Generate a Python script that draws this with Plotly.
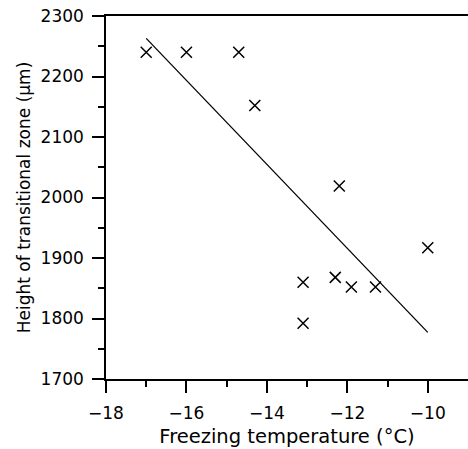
import plotly.graph_objects as go

# measured points: freezing temperature (°C) vs height of transitional zone (µm)
temp = [-17.0, -16.0, -14.7, -14.3, -12.2, -13.1, -13.1, -12.3, -11.9, -11.3, -10.0]
height = [2240, 2240, 2240, 2152, 2019, 1860, 1792, 1868, 1852, 1852, 1917]

# linear fit line, end points
fit_x = [-17.0, -10.0]
fit_y = [2263, 1777]

FONT = "DejaVu Sans"

fig = go.Figure()
fig.add_trace(go.Scatter(
    x=fit_x, y=fit_y, mode="lines",
    line=dict(color="black", width=1.3),
    showlegend=False, hoverinfo="skip"))
fig.add_trace(go.Scatter(
    x=temp, y=height, mode="markers",
    marker=dict(symbol="x-thin", size=11, line=dict(color="black", width=1.5)),
    showlegend=False))

fig.update_layout(
    width=468, height=449,
    margin=dict(l=106, r=0, t=16, b=70, autoexpand=False),
    plot_bgcolor="white", paper_bgcolor="white",
    font=dict(family=FONT, size=17, color="black"),
    xaxis=dict(
        range=[-18, -9], tickmode="array", tickvals=[-18, -16, -14, -12, -10],
        ticks="outside", ticklen=12, tickwidth=1.5, tickcolor="black",
        ticklabelstandoff=6,
        minor=dict(tickvals=[-17, -15, -13, -11], ticks="outside", ticklen=6,
                   tickwidth=1.5, tickcolor="black"),
        showline=True, linecolor="black", linewidth=1.5, mirror=True,
        showgrid=False, zeroline=False,
        title=dict(text="Freezing temperature (°C)", standoff=7, font=dict(size=19.5))),
    yaxis=dict(
        range=[1700, 2300], tickmode="array",
        tickvals=[1700, 1800, 1900, 2000, 2100, 2200, 2300],
        ticks="outside", ticklen=12, tickwidth=1.5, tickcolor="black",
        ticklabelstandoff=5,
        minor=dict(tickvals=[1750, 1850, 1950, 2050, 2150, 2250], ticks="outside",
                   ticklen=6, tickwidth=1.5, tickcolor="black"),
        showline=True, linecolor="black", linewidth=1.5,
        showgrid=False, zeroline=False,
        title=dict(text="Height of transitional zone (μm)", standoff=6, font=dict(size=17))),
)

# page body has a default 8px margin; drop it so the figure sits at the window origin
fig.write_html("out.html", config={"displayModeBar": False},
               post_script="document.body.style.margin='0';")
